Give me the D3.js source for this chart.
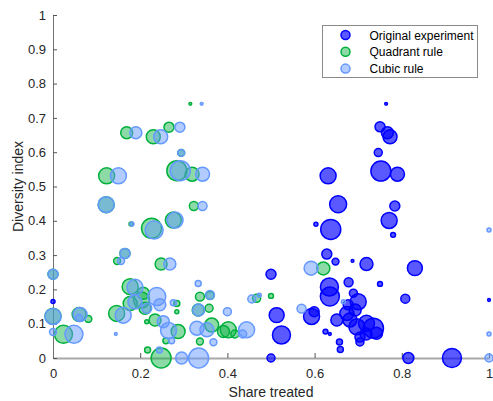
<!DOCTYPE html>
<html>
<head>
<meta charset="utf-8">
<script src="https://cdn.jsdelivr.net/npm/d3@7"></script>
<style>
  body { margin: 0; background: #fff; }
  svg { display: block; font-family: "Liberation Sans", Arial, sans-serif; }
  .tick-label { font-size: 13px; fill: #262626; }
  .axis-title { font-size: 14px; fill: #262626; }
  .legend-label { font-size: 12px; fill: #000; }
</style>
</head>
<body>
<svg id="chart"></svg>
<script>
// [share treated, diversity index, group size]
const originalExperiment = [
  [0.764, 0.741, 2], [0.750, 0.674, 25], [0.767, 0.657, 36], [0.773, 0.645, 49],
  [0.746, 0.599, 16], [0.752, 0.545, 100], [0.790, 0.536, 49], [0.631, 0.531, 64],
  [0.654, 0.448, 72], [0.784, 0.443, 25], [0.771, 0.401, 64], [0.603, 0.390, 4],
  [0.637, 0.375, 100], [0.780, 0.359, 6], [0.628, 0.303, 25], [0.648, 0.281, 12],
  [0.687, 0.283, 2], [0.719, 0.274, 42], [0.830, 0.262, 56], [0.500, 0.244, 25],
  [0.678, 0.221, 20], [0.750, 0.216, 6], [0.634, 0.207, 81], [0.635, 0.179, 90],
  [0.808, 0.173, 20], [1.000, 0.169, 2], [0.000, 0.165, 4], [0.513, 0.125, 56],
  [0.593, 0.121, 64], [0.599, 0.135, 25], [0.524, 0.067, 81], [0.625, 0.077, 6],
  [0.635, 0.070, 2], [0.657, 0.047, 9], [0.659, 0.025, 9], [0.500, 0.000, 16],
  [0.815, 0.000, 30], [0.915, 0.000, 90], [0.689, 0.189, 16], [0.700, 0.164, 64],
  [0.677, 0.155, 25], [0.674, 0.130, 49], [0.651, 0.111, 36], [0.681, 0.111, 49],
  [0.697, 0.091, 64], [0.719, 0.101, 64], [0.735, 0.087, 100], [0.742, 0.072, 36],
  [0.718, 0.070, 36], [0.704, 0.061, 25], [0.704, 0.047, 16], [0.693, 0.140, 36]
];

const quadrantRule = [
  [0.315, 0.741, 2], [0.169, 0.657, 36], [0.230, 0.645, 49], [0.266, 0.673, 25],
  [0.294, 0.598, 12], [0.123, 0.531, 64], [0.284, 0.546, 100], [0.319, 0.536, 49],
  [0.122, 0.447, 64], [0.323, 0.443, 20], [0.179, 0.391, 4], [0.226, 0.378, 100],
  [0.276, 0.402, 64], [0.165, 0.305, 25], [0.147, 0.283, 12], [0.248, 0.274, 36],
  [0.000, 0.244, 25], [0.000, 0.122, 64], [0.024, 0.069, 81], [0.060, 0.127, 49],
  [0.081, 0.114, 12], [0.146, 0.130, 64], [0.177, 0.208, 64], [0.177, 0.159, 49],
  [0.203, 0.169, 64], [0.211, 0.145, 36], [0.234, 0.111, 36], [0.287, 0.077, 49],
  [0.284, 0.159, 9], [0.217, 0.023, 9], [0.248, 0.000, 100], [0.259, 0.050, 9],
  [0.337, 0.179, 20], [0.358, 0.145, 16], [0.333, 0.140, 36], [0.364, 0.096, 49],
  [0.402, 0.082, 64], [0.391, 0.077, 36], [0.417, 0.070, 16], [0.337, 0.048, 12],
  [0.467, 0.174, 16], [0.500, 0.181, 6], [0.620, 0.261, 42], [0.215, 0.106, 4],
  [0.207, 0.189, 36], [0.284, 0.135, 4], [0.360, 0.182, 16]
];

const cubicRule = [
  [0.341, 0.741, 2], [0.190, 0.657, 36], [0.247, 0.645, 49], [0.291, 0.673, 25],
  [0.294, 0.598, 12], [0.150, 0.531, 64], [0.292, 0.546, 100], [0.343, 0.536, 49],
  [0.122, 0.447, 64], [0.343, 0.443, 20], [0.181, 0.391, 4], [0.232, 0.373, 81],
  [0.280, 0.402, 64], [0.165, 0.305, 25], [0.156, 0.283, 12], [0.268, 0.274, 36],
  [0.000, 0.244, 25], [0.000, 0.121, 64], [0.000, 0.076, 12], [0.048, 0.069, 81],
  [0.062, 0.127, 49], [0.060, 0.117, 12], [0.144, 0.070, 2], [0.161, 0.125, 64],
  [0.188, 0.206, 64], [0.188, 0.163, 49], [0.238, 0.179, 81], [0.215, 0.145, 25],
  [0.253, 0.106, 36], [0.265, 0.080, 64], [0.276, 0.161, 9], [0.244, 0.023, 9],
  [0.295, 0.000, 36], [0.334, 0.000, 100], [0.272, 0.050, 9], [0.333, 0.217, 9],
  [0.360, 0.184, 20], [0.334, 0.140, 36], [0.400, 0.135, 16], [0.330, 0.087, 49],
  [0.353, 0.082, 49], [0.368, 0.046, 12], [0.444, 0.082, 64], [0.435, 0.070, 16],
  [0.456, 0.172, 16], [0.473, 0.183, 4], [0.592, 0.262, 49], [0.570, 0.144, 20],
  [0.666, 0.164, 4], [1.000, 0.373, 4], [1.000, 0.070, 4], [1.000, 0.000, 16],
  [0.245, 0.155, 36]
];

const seriesNames = ['Original experiment', 'Quadrant rule', 'Cubic rule'];
const xTicks = [0, 0.2, 0.4, 0.6, 0.8, 1];
const xTickLabels = ['0', '0.2', '0.4', '0.6', '0.8', '1'];
const yTicks = [0, 0.1, 0.2, 0.3, 0.4, 0.5, 0.6, 0.7, 0.8, 0.9, 1];
const yTickLabels = ['0', '0.1', '0.2', '0.3', '0.4', '0.5', '0.6', '0.7', '0.8', '0.9', '1'];

const styles = [
  {fill: '#0000ff', fillOpacity: 0.65, stroke: '#0000ff'},
  {fill: '#00b03c', fillOpacity: 0.45, stroke: '#00b03c'},
  {fill: '#6699ff', fillOpacity: 0.5, stroke: '#6699ff'}
];

const width = 493, height = 401;
const margin = {top: 15, right: 4, bottom: 43, left: 53};

const svg = d3.select('#chart')
    .attr('width', width)
    .attr('height', height);

const xScale = d3.scaleLinear()
    .domain([0, 1])
    .range([margin.left, width - margin.right]);

const yScale = d3.scaleLinear()
    .domain([0, 1])
    .range([height - margin.bottom, margin.top]);

const rScale = d3.scaleSqrt()
    .domain([0, 100])
    .range([0, 10]);

// axes sit underneath the bubbles
const xAxis = d3.axisBottom(xScale)
    .tickValues(xTicks)
    .tickFormat((d, i) => xTickLabels[i])
    .tickSizeInner(-5)
    .tickSizeOuter(0)
    .tickPadding(11);

const yAxis = d3.axisLeft(yScale)
    .tickValues(yTicks)
    .tickFormat((d, i) => yTickLabels[i])
    .tickSizeInner(-4)
    .tickSizeOuter(0)
    .tickPadding(7);

const xAxisG = svg.append('g')
    .attr('transform', `translate(0,${yScale(0)})`)
    .call(xAxis);

const yAxisG = svg.append('g')
    .attr('transform', `translate(${xScale(0)},0)`)
    .call(yAxis);

xAxisG.select('.domain').attr('stroke', '#a8a8a8').attr('stroke-width', 2);
yAxisG.select('.domain').attr('stroke', '#707070');
[xAxisG, yAxisG].forEach(g => {
    g.selectAll('.tick line').attr('stroke', '#555');
    g.selectAll('.tick text')
        .attr('class', 'tick-label')
        .attr('fill', null)
        .style('font-size', '13px')
        .style('font-family', '"Liberation Sans", Arial, sans-serif');
});

// bubbles
[originalExperiment, quadrantRule, cubicRule].forEach((data, i) => {
    svg.append('g')
        .selectAll('circle')
        .data(data)
        .join('circle')
        .attr('cx', d => xScale(d[0]))
        .attr('cy', d => yScale(d[1]))
        .attr('r', d => rScale(d[2]))
        .attr('fill', styles[i].fill)
        .attr('fill-opacity', styles[i].fillOpacity)
        .attr('stroke', styles[i].stroke)
        .attr('stroke-width', 1.5);
});

// axis titles
svg.append('text')
    .attr('class', 'axis-title')
    .attr('x', (xScale(0) + xScale(1)) / 2)
    .attr('y', 397)
    .attr('text-anchor', 'middle')
    .text('Share treated');

svg.append('text')
    .attr('class', 'axis-title')
    .attr('transform', `translate(23,${(yScale(0) + yScale(1)) / 2}) rotate(-90)`)
    .attr('text-anchor', 'middle')
    .text('Diversity index');

// legend
const legend = svg.append('g')
    .attr('transform', 'translate(322.5,25.5)');

legend.append('rect')
    .attr('width', 155)
    .attr('height', 52)
    .attr('fill', '#fff')
    .attr('stroke', '#8a8a8a');

seriesNames.forEach((name, i) => {
    const row = legend.append('g')
        .attr('transform', `translate(0,${9.5 + i * 16.8})`);
    row.append('circle')
        .attr('cx', 23)
        .attr('cy', 0)
        .attr('r', 4.5)
        .attr('fill', styles[i].fill)
        .attr('fill-opacity', styles[i].fillOpacity)
        .attr('stroke', styles[i].stroke)
        .attr('stroke-width', 1.5);
    row.append('text')
        .attr('class', 'legend-label')
        .attr('x', 47)
        .attr('y', 4.5)
        .text(name);
});
</script>
</body>
</html>
